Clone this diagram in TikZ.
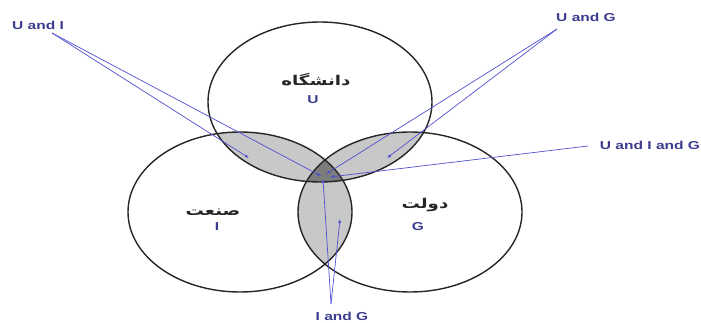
\documentclass[tikz,border=0pt]{standalone}
\usepackage{fontspec}
\setmainfont{Liberation Sans}
\newfontfamily\arabicfont[Script=Arabic]{DejaVu Sans}
\TeXXeTstate=1
\usetikzlibrary{arrows.meta}
\definecolor{lblblue}{HTML}{3C3C8E}
\definecolor{lineblue}{HTML}{5050D0}
\definecolor{lens}{HTML}{C8C8C8}
\definecolor{core}{HTML}{7C7C7C}
\tikzset{
  lbl/.style={text=lblblue, font=\bfseries\fontsize{11.5}{12}\selectfont, inner sep=0pt, xscale=1.35},
  fa/.style={font=\arabicfont\bfseries\fontsize{13.5}{14}\selectfont, inner sep=0pt, xscale=1.35, text=black!85},
  ptr/.style={draw=lineblue, line width=0.7pt, -{Latex[length=4pt,width=3.2pt]}},
  rim/.style={draw=black!85, line width=1.4pt}
}
\begin{document}
\begin{tikzpicture}[x=1pt,y=-1pt]
\useasboundingbox (0,0) rectangle (701,323);
\coordinate (cU) at (320,102);
\coordinate (cI) at (240,212);
\coordinate (cG) at (410,212);
\def\rx{112}\def\ry{80}
% lenses
\begin{scope}\clip (cU) ellipse [x radius=\rx, y radius=\ry]; \fill[lens] (cI) ellipse [x radius=\rx, y radius=\ry]; \fill[lens] (cG) ellipse [x radius=\rx, y radius=\ry];\end{scope}
\begin{scope}\clip (cI) ellipse [x radius=\rx, y radius=\ry]; \fill[lens] (cG) ellipse [x radius=\rx, y radius=\ry];\end{scope}
\begin{scope}\clip (cU) ellipse [x radius=\rx, y radius=\ry]; \clip (cI) ellipse [x radius=\rx, y radius=\ry]; \fill[core] (cG) ellipse [x radius=\rx, y radius=\ry];\end{scope}
% outlines
\draw[rim] (cU) ellipse [x radius=\rx, y radius=\ry];
\draw[rim] (cI) ellipse [x radius=\rx, y radius=\ry];
\draw[rim] (cG) ellipse [x radius=\rx, y radius=\ry];
% set names
\node[fa] (nU) at (316,80) {\beginR دانشگاه\endR};
\node[lbl] (sU) at (313,100) {U};
\node[fa] (nI) at (213,212) {\beginR صنعت\endR};
\node[lbl] (sI) at (217,227) {I};
\node[fa] (nG) at (425,205) {\beginR دولت\endR};
\node[lbl] (sG) at (418,227) {G};
% pointer labels
\node[lbl] (ui) at (38,25) {U and I};
\node[lbl] (ug) at (586,17) {U and G};
\node[lbl] (uig) at (650,145) {U and I and G};
\node[lbl] (ig) at (342,316) {I and G};
% pointer start and end points
\coordinate (uiS) at (52,33);
\coordinate (ugS) at (557,29);
\coordinate (uigS) at (588,146);
\coordinate (igS) at (331,304);
\coordinate (tUI) at (249,158);
\coordinate (tUG) at (387,158);
\coordinate (tIG) at (340,219);
\coordinate (t1) at (321,176);
\coordinate (t2) at (326,174);
\coordinate (t3) at (330,177);
\coordinate (t4) at (323,179);
% pointers
\draw[ptr] (uiS) -- (tUI);
\draw[ptr] (uiS) -- (t1);
\draw[ptr] (ugS) -- (tUG);
\draw[ptr] (ugS) -- (t2);
\draw[ptr] (uigS) -- (t3);
\draw[ptr] (igS) -- (tIG);
\draw[ptr] (igS) -- (t4);
\end{tikzpicture}
\end{document}
